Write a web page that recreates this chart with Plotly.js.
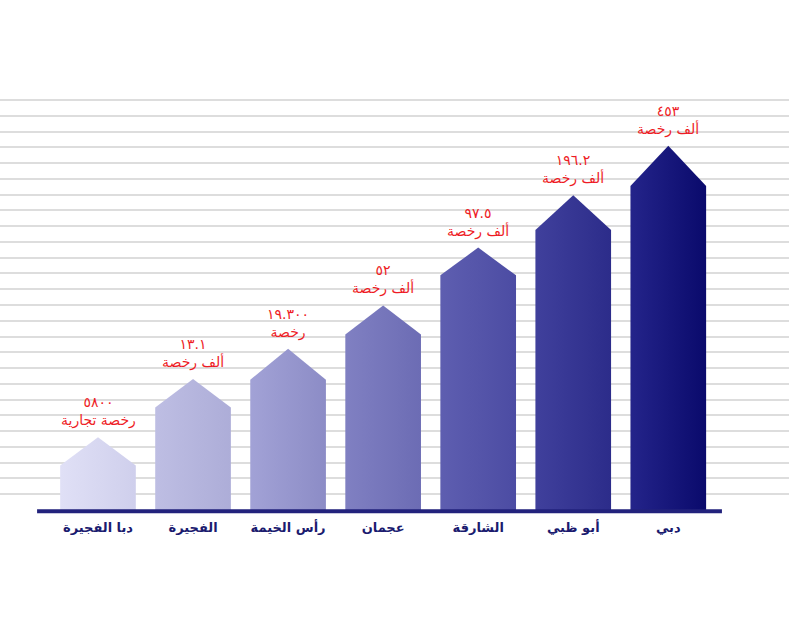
<!DOCTYPE html>
<html>
<head>
<meta charset="utf-8">
<script src="https://cdn.plot.ly/plotly-3.0.1.min.js"></script>
<style>html,body{margin:0;padding:0;background:#fff;}#chart{width:789px;height:633px;}</style>
</head>
<body>
<div id="chart"></div>
<script>
// ---- data ----
const categories = ['دبا الفجيرة', 'الفجيرة', 'رأس الخيمة', 'عجمان', 'الشارقة', 'أبو ظبي', 'دبي'];
const valueLabels = ['٥٨٠٠', '١٣.١', '١٩.٣٠٠', '٥٢', '٩٧.٥', '١٩٦.٢', '٤٥٣'];
const unitLabels = ['رخصة تجارية', 'ألف رخصة', 'رخصة', 'ألف رخصة', 'ألف رخصة', 'ألف رخصة', 'ألف رخصة'];
// drawn heights of the house-shaped bars (grid units)
const wallHeights = [2.82, 6.50, 8.26, 11.13, 14.88, 17.76, 20.55];
const peakHeights = [4.62, 8.31, 10.22, 12.97, 16.64, 19.96, 23.10];

// ---- styles ----
const leftColors  = ['#e0e0f6', '#bebee3', '#a2a2d6', '#8080c2', '#5e5eb0', '#40409c', '#24248a'];
const rightColors = ['#cfcfec', '#adadd8', '#8c8cc6', '#6c6cb4', '#4c4ca3', '#2c2c8a', '#0a0a6c'];
const halfWidth = 0.398;

const idx = categories.map((c, i) => i);
const traces = categories.map((c, i) => ({
  type: 'scatter',
  mode: 'lines',
  x: [i - halfWidth, i - halfWidth, i, i + halfWidth, i + halfWidth, i - halfWidth],
  y: [0, wallHeights[i], peakHeights[i], wallHeights[i], 0, 0],
  fill: 'toself',
  fillcolor: rightColors[i],
  fillgradient: {type: 'horizontal', colorscale: [[0, leftColors[i]], [1, rightColors[i]]]},
  line: {width: 0, color: rightColors[i]},
  hoverinfo: 'skip',
  showlegend: false,
  name: c
}));

const annotations = categories.map((c, i) => ({
  x: i, y: peakHeights[i], xref: 'x', yref: 'y',
  text: valueLabels[i] + '<br>' + unitLabels[i],
  showarrow: false, yanchor: 'bottom', xanchor: 'center', yshift: 6,
  font: {family: 'DejaVu Sans', size: 14, color: '#ee1c25'}
}));

const layout = {
  width: 789, height: 633,
  margin: {l: 0, r: 0, t: 98, b: 123},
  paper_bgcolor: '#ffffff', plot_bgcolor: '#ffffff',
  showlegend: false,
  xaxis: {
    range: [-1.031, 7.270],
    tickmode: 'array', tickvals: idx, ticktext: categories,
    showgrid: false, zeroline: false, showline: false, ticks: '',
    tickfont: {family: 'DejaVu Sans', size: 13, color: '#1b1b6f', weight: 'bold'},
    ticklabelstandoff: 8,
    fixedrange: true
  },
  yaxis: {
    range: [0, 26.127], dtick: 1, tick0: 0,
    showgrid: true, gridcolor: '#dddddd', gridwidth: 2,
    showticklabels: false, zeroline: false, showline: false, ticks: '',
    fixedrange: true
  },
  shapes: [{
    type: 'line', xref: 'paper', yref: 'paper',
    x0: 0.047, x1: 0.915, y0: -0.003, y1: -0.003,
    line: {color: '#22227c', width: 4}, layer: 'above'
  }],
  annotations: annotations
};

Plotly.newPlot('chart', traces, layout, {displayModeBar: false, staticPlot: true});
</script>
</body>
</html>
